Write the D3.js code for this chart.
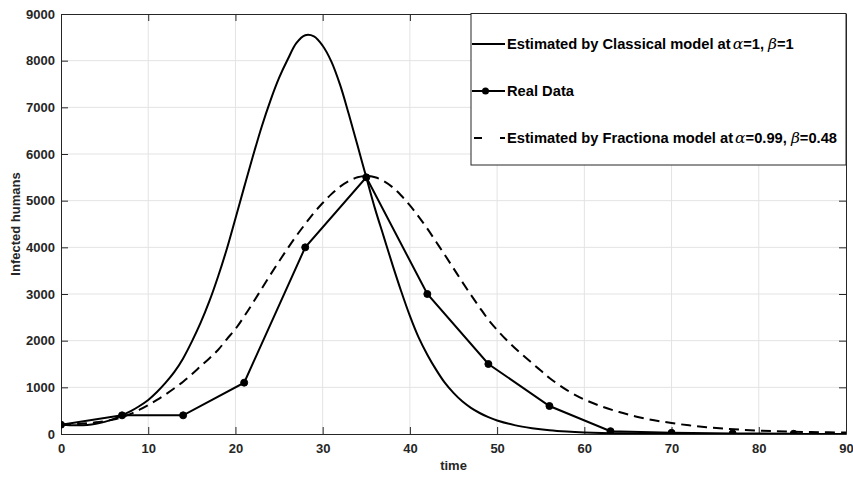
<!DOCTYPE html>
<html>
<head>
<meta charset="utf-8">
<script src="https://cdn.jsdelivr.net/npm/d3@7"></script>
<style>
  html, body { margin: 0; padding: 0; background: #ffffff; }
  svg { display: block; }
  .tick text { font-family: "Liberation Sans", Arial, Helvetica, sans-serif; font-weight: bold; font-size: 13px; fill: #262626; }
</style>
</head>
<body>
<svg id="chart" width="853" height="478"></svg>
<script>
// Days sampled for the real observations
const realDays = [0, 7, 14, 21, 28, 35, 42, 49, 56, 63, 70, 77, 84];
const realInfected = [200, 400, 400, 1100, 4000, 5500, 3000, 1500, 600, 60, 25, 12, 5];

// Classical model (alpha = 1, beta = 1)
const classicalDays = [0, 1, 2, 3, 4, 5, 6, 7, 8, 9, 10, 11, 12, 13, 14, 15, 16, 17, 18, 19, 20,
  21, 22, 23, 24, 25, 26, 27, 28, 29, 30, 31, 32, 33, 34, 35, 36, 37, 38, 39, 40,
  41, 42, 43, 44, 45, 46, 47, 48, 49, 50, 52, 54, 56, 58, 60, 63, 66, 70, 75, 80, 90];
const classicalInfected = [200, 190, 185, 195, 220, 260, 320, 400, 490, 600, 730, 900, 1100, 1330, 1620, 1980, 2380, 2840, 3370, 3960, 4620,
  5290, 5950, 6580, 7140, 7630, 8030, 8380, 8545, 8520, 8320, 7980, 7480, 6850, 6180, 5500, 4830, 4230, 3630, 3060, 2530,
  2070, 1700, 1380, 1100, 880, 700, 560, 450, 360, 290, 190, 125, 80, 52, 34, 18, 9, 4, 1, 0, 0];

// Fractional model (alpha = 0.99, beta = 0.48)
const fractionalDays = [0, 2, 4, 6, 7, 8, 9, 10, 11, 12, 13, 14, 15, 16, 17, 18, 19, 20,
  21, 22, 23, 24, 25, 26, 27, 28, 29, 30, 31, 32, 33, 34, 35, 36, 37, 38, 39, 40,
  41, 42, 43, 44, 45, 46, 47, 48, 49, 50, 51, 52, 53, 54, 55, 56, 58, 60, 62, 64, 66, 68,
  70, 72, 74, 76, 78, 80, 82, 84, 86, 88, 90];
const fractionalInfected = [200, 215, 250, 310, 360, 430, 520, 620, 730, 850, 980, 1120, 1280, 1450, 1620, 1800, 2030, 2250,
  2520, 2810, 3110, 3410, 3700, 3980, 4250, 4500, 4740, 4950, 5140, 5300, 5420, 5500, 5530, 5500, 5420, 5290, 5110, 4900,
  4660, 4400, 4120, 3840, 3550, 3260, 2980, 2710, 2450, 2230, 2030, 1850, 1680, 1520, 1360, 1200, 940, 740, 590, 470, 370, 295,
  235, 185, 145, 115, 92, 74, 60, 50, 42, 36, 30];

const xTicks = [0, 10, 20, 30, 40, 50, 60, 70, 80, 90];
const yTicks = [0, 1000, 2000, 3000, 4000, 5000, 6000, 7000, 8000, 9000];

const legendLabels = [
  { pre: "Estimated by Classical model at", a: "=1, ", b: "=1" },
  { pre: "Real Data" },
  { pre: "Estimated by Fractiona model at", a: "=0.99, ", b: "=0.48" }
];

const svg = d3.select("#chart");
const plotLeft = 61, plotRight = 846, plotTop = 14, plotBottom = 434;

const x = d3.scaleLinear().domain([0, 90]).range([plotLeft, plotRight]);
const y = d3.scaleLinear().domain([0, 9000]).range([plotBottom, plotTop]);

// grid
const grid = svg.append("g");
grid.selectAll("line.gx").data(xTicks.slice(1, -1)).join("line")
  .attr("x1", d => x(d)).attr("x2", d => x(d)).attr("y1", plotTop).attr("y2", plotBottom)
  .attr("stroke", "#e3e3e3").attr("stroke-width", 1);
grid.selectAll("line.gy").data(yTicks.slice(1, -1)).join("line")
  .attr("y1", d => y(d)).attr("y2", d => y(d)).attr("x1", plotLeft).attr("x2", plotRight)
  .attr("stroke", "#e3e3e3").attr("stroke-width", 1);

// axes with inward ticks on all four sides
const tickLen = 7;
function styleAxis(g) {
  g.select(".domain").attr("stroke", "#262626").attr("stroke-width", 1);
  g.selectAll(".tick line").attr("stroke", "#262626").attr("stroke-width", 1);
}
svg.append("g").attr("transform", `translate(0,${plotBottom})`)
  .call(d3.axisBottom(x).tickValues(xTicks).tickSizeInner(-tickLen).tickSizeOuter(0).tickPadding(10).tickFormat(d3.format("d")))
  .call(styleAxis);
svg.append("g").attr("transform", `translate(0,${plotTop})`)
  .call(d3.axisTop(x).tickValues(xTicks).tickSizeInner(-tickLen).tickSizeOuter(0).tickFormat(""))
  .call(styleAxis);
svg.append("g").attr("transform", `translate(${plotLeft},0)`)
  .call(d3.axisLeft(y).tickValues(yTicks).tickSizeInner(-tickLen).tickSizeOuter(0).tickPadding(6).tickFormat(d3.format("d")))
  .call(styleAxis);
svg.append("g").attr("transform", `translate(${plotRight},0)`)
  .call(d3.axisRight(y).tickValues(yTicks).tickSizeInner(-tickLen).tickSizeOuter(0).tickFormat(""))
  .call(styleAxis);

// axis titles
svg.append("text").attr("x", (plotLeft + plotRight) / 2).attr("y", 470)
  .attr("text-anchor", "middle")
  .attr("font-family", "Liberation Sans, Arial, sans-serif").attr("font-weight", "bold").attr("font-size", 13)
  .attr("fill", "#262626").text("time");
svg.append("text").attr("transform", `translate(20,${(plotTop + plotBottom) / 2}) rotate(-90)`)
  .attr("text-anchor", "middle")
  .attr("font-family", "Liberation Sans, Arial, sans-serif").attr("font-weight", "bold").attr("font-size", 13)
  .attr("fill", "#262626").text("Infected humans");

// series
svg.append("clipPath").attr("id", "plotClip").append("rect")
  .attr("x", plotLeft).attr("y", plotTop).attr("width", plotRight - plotLeft).attr("height", plotBottom - plotTop);
const plot = svg.append("g").attr("clip-path", "url(#plotClip)");

const smooth = d3.line().x(d => x(d[0])).y(d => y(d[1])).curve(d3.curveCatmullRom.alpha(0.5));
const straight = d3.line().x(d => x(d[0])).y(d => y(d[1]));

plot.append("path").datum(d3.zip(classicalDays, classicalInfected))
  .attr("d", smooth).attr("fill", "none").attr("stroke", "#000").attr("stroke-width", 2);

plot.append("path").datum(d3.zip(realDays, realInfected))
  .attr("d", straight).attr("fill", "none").attr("stroke", "#000").attr("stroke-width", 2);
plot.selectAll("circle.real").data(d3.zip(realDays, realInfected)).join("circle")
  .attr("cx", d => x(d[0])).attr("cy", d => y(d[1])).attr("r", 3.5)
  .attr("fill", "#000").attr("stroke", "#000").attr("stroke-width", 1);

plot.append("path").datum(d3.zip(fractionalDays, fractionalInfected))
  .attr("d", smooth).attr("fill", "none").attr("stroke", "#000").attr("stroke-width", 2)
  .attr("stroke-dasharray", "10,6");

// legend
const lg = svg.append("g");
const lx0 = 471, lx1 = plotRight, ly0 = 13.5, ly1 = 165;
lg.append("rect").attr("x", lx0).attr("y", ly0).attr("width", lx1 - lx0).attr("height", ly1 - ly0)
  .attr("fill", "#fff").attr("stroke", "#262626").attr("stroke-width", 1);
const rowsY = [44, 91, 138];
const sx0 = 472, sx1 = 505;
lg.append("line").attr("x1", sx0).attr("x2", sx1).attr("y1", rowsY[0]).attr("y2", rowsY[0])
  .attr("stroke", "#000").attr("stroke-width", 2);
lg.append("line").attr("x1", sx0).attr("x2", sx1).attr("y1", rowsY[1]).attr("y2", rowsY[1])
  .attr("stroke", "#000").attr("stroke-width", 2);
lg.append("circle").attr("cx", (sx0 + sx1) / 2 - 3).attr("cy", rowsY[1]).attr("r", 3.5).attr("fill", "#000");
lg.append("line").attr("x1", sx0 + 2).attr("x2", sx1).attr("y1", rowsY[2]).attr("y2", rowsY[2])
  .attr("stroke", "#000").attr("stroke-width", 2).attr("stroke-dasharray", "8,18");

legendLabels.forEach((lab, i) => {
  const t = lg.append("text").attr("x", 507).attr("y", rowsY[i]).attr("dy", "0.35em")
    .attr("font-family", "Liberation Sans, Arial, sans-serif").attr("font-weight", "bold").attr("font-size", 14.7)
    .attr("fill", "#000");
  t.append("tspan").text(lab.pre);
  if (lab.a) {
    t.append("tspan").attr("font-family", "DejaVu Serif, Liberation Serif, serif").attr("font-style", "italic")
      .attr("font-weight", "normal").attr("font-size", 15.5).attr("dx", 2).text("\u03b1");
    t.append("tspan").text(lab.a);
    t.append("tspan").attr("font-family", "DejaVu Serif, Liberation Serif, serif").attr("font-style", "italic")
      .attr("font-weight", "normal").attr("font-size", 15.5).text("\u03b2");
    t.append("tspan").text(lab.b);
  }
});
</script>
</body>
</html>
